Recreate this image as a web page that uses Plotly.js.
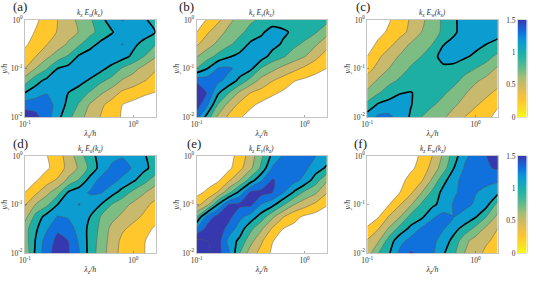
<!DOCTYPE html>
<html><head><meta charset="utf-8">
<script src="https://cdn.plot.ly/plotly-3.0.1.min.js"></script>
<style>html,body{margin:0;padding:0;background:#fff}#c{width:538px;height:282px}</style>
</head><body><div id="c"></div>
<script>
const lambdaGrid=[0.1,0.126,0.158,0.2,0.251,0.316,0.398,0.501,0.631,0.794,1,1.259,1.6];
const yGrid=[0.01,0.0178,0.0316,0.0562,0.1,0.178,0.316,0.562,1];
const zA=[
[1.55,1.45,1.3,1.06,.86,.67,.52,.39,.29,.18,.1,.05,.03],
[1.3,1.33,1.28,1.14,.94,.78,.58,.44,.32,.2,.14,.08,.05],
[1.0,1.1,1.19,1.12,1.0,.9,.78,.63,.5,.36,.3,.24,.19],
[.71,.93,1.05,1.1,1.12,1.08,.97,.84,.74,.58,.5,.41,.33],
[.4,.61,.78,1.0,1.07,1.12,1.15,1.06,.93,.78,.67,.53,.42],
[.27,.4,.55,.7,.82,1.03,1.1,1.15,1.16,1.08,.95,.8,.62],
[.17,.28,.39,.5,.63,.77,.93,1.05,1.13,1.21,1.05,.93,.81],
[.1,.22,.32,.41,.52,.61,.74,.87,.98,1.1,1.15,1.1,1.0],
[.05,.16,.29,.4,.53,.64,.77,.95,1.08,1.21,1.13,1.03,.92]];
const zB=[
[1.3,.9,.56,.35,.22,.12,.06,.03,.02,.02,.02,.02,.02],
[1.5,1.22,.78,.52,.35,.24,.15,.09,.06,.03,.03,.03,.03],
[1.6,1.38,1.03,.8,.56,.4,.33,.24,.17,.12,.09,.06,.04],
[1.36,1.3,1.24,1.13,.94,.72,.53,.41,.32,.21,.16,.12,.08],
[.8,1.0,1.22,1.23,1.13,1.05,.78,.66,.54,.46,.36,.27,.2],
[.59,.72,.86,.98,1.06,1.09,1.1,.92,.83,.7,.61,.46,.31],
[.37,.52,.65,.77,.88,1.04,1.1,1.08,.97,.85,.76,.63,.47],
[.2,.38,.52,.66,.76,.86,.96,1.1,1.04,.96,.9,.82,.67],
[.1,.22,.36,.55,.68,.77,.83,.88,.89,.88,.86,.84,.86]];
const zC=[
[1.1,1.24,1.25,1.12,.98,.8,.7,.63,.52,.4,.32,.24,.15],
[.86,1.03,1.08,1.08,1.01,.92,.82,.74,.63,.53,.42,.34,.22],
[.65,.78,.9,.99,1.01,.95,.9,.83,.74,.62,.51,.44,.36],
[.47,.63,.74,.83,.88,.92,.93,.91,.85,.75,.63,.54,.47],
[.33,.46,.6,.71,.82,.88,.92,.96,.93,.86,.8,.71,.57],
[.2,.36,.5,.62,.72,.8,.93,1.07,1.1,1.03,.96,.88,.75],
[.1,.24,.34,.49,.62,.72,.8,.99,1.06,1.1,1.06,1.0,.96],
[.05,.14,.23,.33,.45,.6,.7,.84,.97,1.08,1.12,1.1,1.05],
[.01,.08,.18,.3,.42,.56,.68,.84,.97,1.08,1.12,1.12,1.1]];
const zD=[
[.65,1.05,1.33,1.5,1.42,1.22,.92,.7,.5,.33,.26,.205,.13],
[.7,1.02,1.3,1.45,1.4,1.17,.93,.72,.52,.35,.27,.21,.12],
[.72,.97,1.17,1.37,1.3,1.12,.95,.75,.55,.43,.34,.27,.17],
[.52,.88,1.07,1.21,1.18,1.1,1.0,.79,.66,.56,.46,.37,.28],
[.38,.61,.75,1.0,1.12,1.21,1.12,1.0,.8,.67,.56,.45,.35],
[.2,.36,.54,.72,1.02,1.13,1.22,1.22,1.08,.92,.75,.62,.48],
[.1,.18,.31,.43,.65,.82,1.08,1.26,1.28,1.15,1.03,.87,.7],
[.04,.1,.17,.28,.47,.63,.85,1.08,1.24,1.3,1.17,1.05,.92],
[.03,.1,.19,.31,.49,.71,.92,1.08,1.14,1.18,1.14,1.02,.9]];
const zE=[
[1.7,1.65,1.47,1.23,.8,.5,.33,.17,.09,.05,.03,.02,.01],
[1.65,1.6,1.5,1.12,.95,.67,.43,.21,.13,.08,.05,.03,.02],
[1.22,1.48,1.52,1.32,1.1,.85,.63,.38,.2,.15,.1,.06,.03],
[.8,1.28,1.48,1.46,1.25,1.12,.91,.65,.42,.26,.17,.12,.07],
[.32,.55,1.02,1.42,1.45,1.45,1.19,1.07,.83,.61,.48,.36,.22],
[.14,.24,.42,.75,1.07,1.44,1.47,1.41,1.22,.98,.76,.64,.42],
[.06,.11,.17,.38,.6,.9,1.18,1.42,1.34,1.27,1.14,.9,.63],
[.02,.05,.1,.16,.34,.56,.85,1.22,1.3,1.3,1.25,1.1,.97],
[.01,.03,.07,.13,.28,.5,.76,1.05,1.22,1.3,1.3,1.21,1.1]];
const zF=[
[.5,.79,.97,1.25,1.42,1.36,1.24,1.03,.84,.6,.48,.35,.27],
[.42,.57,.89,1.13,1.27,1.32,1.27,1.1,.94,.66,.52,.43,.34],
[.22,.39,.62,.88,1.05,1.23,1.3,1.22,1.06,.93,.74,.55,.4],
[.12,.18,.41,.59,.86,.95,1.17,1.26,1.2,1.12,1.02,.8,.55],
[.04,.1,.19,.39,.57,.83,.95,1.08,1.22,1.26,1.17,1.07,.73],
[.01,.05,.11,.2,.36,.59,.84,1.06,1.17,1.27,1.21,1.15,1.06],
[.01,.02,.07,.13,.27,.37,.63,.93,1.13,1.28,1.27,1.25,1.23],
[.01,.01,.03,.08,.16,.27,.47,.7,1.0,1.22,1.3,1.38,1.42],
[.01,.01,.02,.06,.12,.23,.4,.63,.9,1.16,1.28,1.4,1.5]];
const panels=[zA,zB,zC,zD,zE,zF];
const titles=['k<sub>x</sub> E<sub>u</sub>(k<sub>x</sub>)','k<sub>x</sub> E<sub>v</sub>(k<sub>x</sub>)','k<sub>x</sub> E<sub>w</sub>(k<sub>x</sub>)','k<sub>z</sub> E<sub>u</sub>(k<sub>z</sub>)','k<sub>z</sub> E<sub>v</sub>(k<sub>z</sub>)','k<sub>z</sub> E<sub>w</sub>(k<sub>z</sub>)'];
const letters=['(a)','(b)','(c)','(d)','(e)','(f)'];
const xLabels=['λ<sub>x</sub>/h','λ<sub>x</sub>/h','λ<sub>x</sub>/h','λ<sub>z</sub>/h','λ<sub>z</sub>/h','λ<sub>z</sub>/h'];
const barLevels=[0,.05,.1,.15,.2,.25,.3,.35,.4,.45,.5,.55,.6,.65,.7,.75,.8,.85,.9,.95,1,1.05,1.1,1.15,1.2,1.25,1.3,1.35,1.4,1.45,1.5];
const bandColors=['#ffffff','#FFC72C','#C9B96C','#7DBD84','#1DAFA4','#0B9CD0','#1070DC','#3538AE'];
const barScale=[[0,'#F9FB15'],[.08,'#FBE022'],[.17,'#FFC72C'],[.3,'#D9BB5C'],[.42,'#A4BC76'],[.55,'#4DB795'],[.66,'#1DAFA8'],[.78,'#0B9CD0'],[.88,'#1070DC'],[1,'#3538AE']];

const W=538,H=282;
const xs=[[25,155.5],[196.7,326.7],[367.3,497.7]];
const ys=[[20,117],[156,253]];
const letterX=[12,178,355,12,186,353];
const letterY=[7,7,7,143,143,143];
const serif='"Liberation Serif", serif';
const bandScale=[];
bandColors.forEach((c,i)=>{bandScale.push([i/8,c]);bandScale.push([(i+1)/8,c]);});
const traces=[],layout={width:W,height:H,margin:{l:0,r:0,t:0,b:0},paper_bgcolor:'#fff',plot_bgcolor:'#fff',showlegend:false,annotations:[],font:{family:serif,size:7,color:'#333'}};
const xdom=a=>[a[0]/W,a[1]/W],ydom=a=>[1-a[1]/H,1-a[0]/H];
panels.forEach((z,i)=>{
  const n=i+1,c=i%3,r=Math.floor(i/3),xk='xaxis'+(n>1?n:''),yk='yaxis'+(n>1?n:''),xa='x'+(n>1?n:''),ya='y'+(n>1?n:'');
  traces.push({type:'contour',x:lambdaGrid,y:yGrid,z:z,xaxis:xa,yaxis:ya,zmin:0,zmax:1.6,autocontour:false,
    contours:{start:0,end:1.6,size:.2,coloring:'fill'},colorscale:bandScale,showscale:false,line:{color:'#5a5a5a',width:.5,smoothing:.6},hoverinfo:'skip'});
  traces.push({type:'contour',x:lambdaGrid,y:yGrid,z:z,xaxis:xa,yaxis:ya,autocontour:false,
    contours:{start:1,end:1,size:1,coloring:'none'},showscale:false,line:{color:'#000',width:1.6,smoothing:.6},hoverinfo:'skip'});
  layout[xk]={type:'log',range:[-1,0.205],domain:xdom(xs[c]),anchor:ya,tickvals:[0.1,1],ticktext:['10<sup>-1</sup>','10<sup>0</sup>'],ticks:'inside',ticklen:2,tickwidth:.5,tickcolor:'#555',
    showgrid:false,zeroline:false,showline:true,mirror:true,linecolor:'#c4c4c4',linewidth:1,
    tickfont:{family:serif,size:7.5,color:'#333'},title:{text:'<i>'+xLabels[i]+'</i>',font:{family:serif,size:8,color:'#333'},standoff:2},automargin:false};
  layout[yk]={type:'log',range:[-2,0],domain:ydom(ys[r]),anchor:xa,tickvals:[0.01,0.1,1],ticktext:['10<sup>-2</sup>','10<sup>-1</sup>','10<sup>0</sup>'],ticks:'inside',ticklen:2,tickwidth:.5,tickcolor:'#555',
    showgrid:false,zeroline:false,showline:true,mirror:true,linecolor:'#c4c4c4',linewidth:1,
    tickfont:{family:serif,size:7.5,color:'#333'},title:{text:'<i>y/h</i>',font:{family:serif,size:8,color:'#333'},standoff:1},automargin:false};
  layout.annotations.push({xref:'paper',yref:'paper',x:(xs[c][0]+xs[c][1])/2/W,y:1-(ys[r][0]-1)/H,yanchor:'bottom',xanchor:'center',showarrow:false,text:'<i>'+titles[i]+'</i>',font:{family:serif,size:7.5,color:'#333'},borderpad:0});
  layout.annotations.push({xref:'paper',yref:'paper',x:letterX[i]/W,y:1-letterY[i]/H,yanchor:'middle',xanchor:'left',showarrow:false,text:letters[i],font:{family:serif,size:13,color:'#222'},borderpad:0});
});
[0,1].forEach(r=>{
  const n=7+r,xa='x'+n,ya='y'+n;
  traces.push({type:'heatmap',x:[0,1],y:barLevels,z:barLevels.map(v=>[v,v]),xaxis:xa,yaxis:ya,zmin:0,zmax:1.5,colorscale:barScale,showscale:false,zsmooth:'best',hoverinfo:'skip'});
  layout['xaxis'+n]={domain:[517.7/W,526.7/W],anchor:ya,range:[0,1],showticklabels:false,ticks:'',showgrid:false,zeroline:false,showline:true,mirror:true,linecolor:'#c4c4c4',linewidth:.6};
  layout['yaxis'+n]={domain:ydom(ys[r]),anchor:xa,range:[0,1.5],side:'left',tickvals:[0,.5,1,1.5],ticktext:['0','0.5','1','1.5'],ticks:'',showgrid:false,zeroline:false,showline:true,mirror:true,linecolor:'#c4c4c4',linewidth:.6,tickfont:{family:serif,size:7.5,color:'#333'}};
});
Plotly.newPlot('c',traces,layout,{staticPlot:true,displayModeBar:false});
</script></body></html>
